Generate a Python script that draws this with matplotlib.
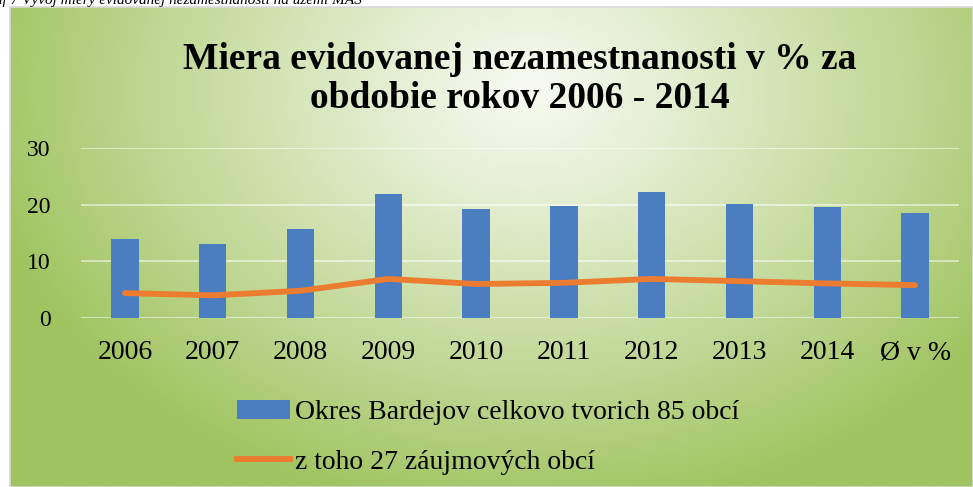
import numpy as np
import matplotlib
matplotlib.use('Agg')
import matplotlib.pyplot as plt
from matplotlib.patches import Patch
from matplotlib.lines import Line2D

# data
kategorie = ['2006', '2007', '2008', '2009', '2010', '2011', '2012', '2013', '2014', 'Ø v %']
okres = [14.0, 13.0, 15.7, 21.8, 19.3, 19.8, 22.3, 20.2, 19.6, 18.5]
zaujmove = [4.4, 4.0, 4.8, 6.9, 6.0, 6.2, 6.9, 6.5, 6.1, 5.8]
y_ticks = [0, 10, 20, 30]

nazov = 'Miera evidovanej nezamestnanosti v % za\nobdobie rokov 2006 - 2014'
popis = 'Graf 7 Vývoj miery evidovanej nezamestnanosti na území MAS'
leg_okres = 'Okres Bardejov celkovo tvorich 85 obcí'
leg_zaujm = 'z toho 27 záujmových obcí'

plt.rcParams['font.family'] = ['Liberation Serif', 'DejaVu Serif']

W, H = 973, 487
fig = plt.figure(figsize=(W / 100, H / 100), dpi=100)
fig.patch.set_facecolor('white')

# radial green background of the chart area
bg = fig.add_axes([10 / W, 0, (W - 10) / W, (H - 7) / H], zorder=-5)
nx, ny = 482, 240
xx, yy = np.meshgrid(np.linspace(10, W, nx), np.linspace(7, H, ny))
t = np.sqrt(((xx - 530) / 560) ** 2 + ((yy - 90) / 430) ** 2)
t = np.clip(t, 0, 1) ** 1.1
c0 = np.array([248, 250, 242]) / 255
c1 = np.array([160, 196, 96]) / 255
img = c0[None, None, :] * (1 - t[..., None]) + c1[None, None, :] * t[..., None]
bg.imshow(img, aspect='auto', extent=[0, 1, 1, 0])
bg.set_xlim(0, 1)
bg.set_ylim(1, 0)
bg.set_xticks([])
bg.set_yticks([])
for s in bg.spines.values():
    s.set_color('#d9d9d9')
    s.set_linewidth(1.2)

ax = fig.add_axes([81 / W, (H - 318) / H, 878 / W, 170 / H])
ax.patch.set_alpha(0)
x = np.arange(len(kategorie))
ax.bar(x, okres, width=0.31, color='#4a7ec0', zorder=2)
ax.plot(x, zaujmove, color='#ec7c30', lw=4.2, solid_capstyle='round',
        solid_joinstyle='round', zorder=3)

ax.set_xlim(-0.5, len(kategorie) - 0.5)
ax.set_ylim(0, 30)
ax.set_yticks(y_ticks)
ax.set_xticks(x)
ax.set_xticklabels(kategorie)
ax.tick_params(axis='y', length=0, pad=22, labelsize=17)
ax.tick_params(axis='x', length=0, pad=16, labelsize=20)
for s in ax.spines.values():
    s.set_visible(False)
ax.grid(axis='y', color='white', alpha=0.6, lw=1.2, zorder=0)

fig.text(520 / W, 1 - 79 / H, nazov, ha='center', va='center',
         fontsize=27, fontweight='bold', linespacing=1.17)

fig.text(-22 / W, 1 - 4 / H, popis, ha='left', va='baseline',
         fontsize=11, style='italic')

handles = [Patch(facecolor='#4a7ec0', edgecolor='none'),
           Line2D([0], [0], color='#ec7c30', lw=4.2)]
fig.legend(handles, [leg_okres, leg_zaujm], loc='upper left',
           bbox_to_anchor=(237 / W, 1 - 400 / H), frameon=False,
           fontsize=20, handlelength=1.9, handletextpad=0.2,
           labelspacing=0.86, borderpad=0, borderaxespad=0)

fig.savefig('out.png', dpi=100)
